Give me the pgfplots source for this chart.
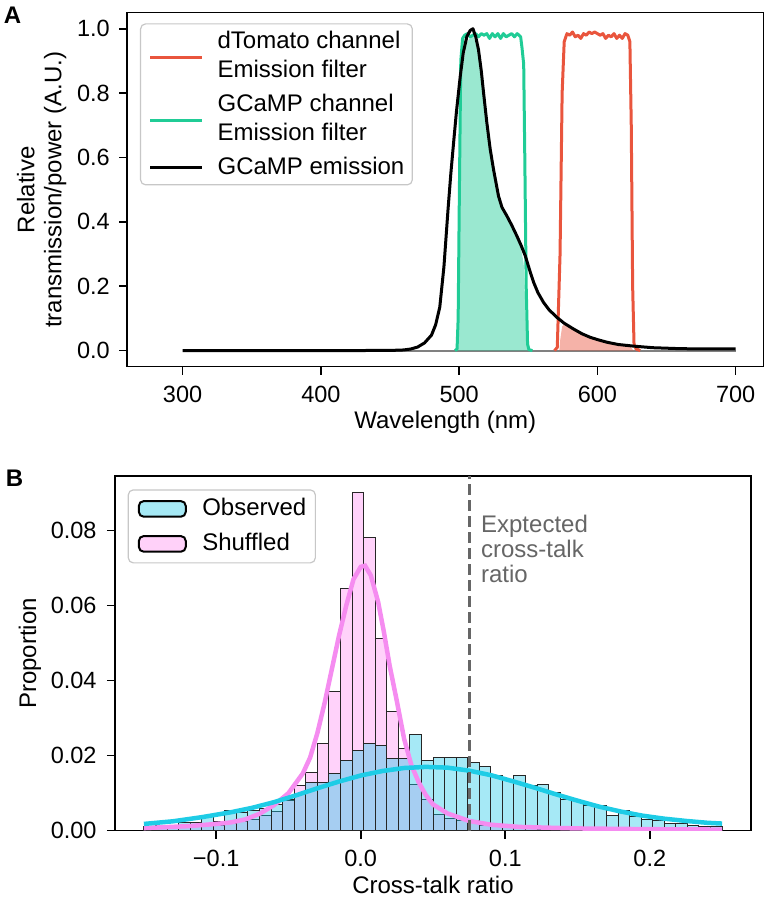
\documentclass[border=0pt]{standalone}
\usepackage{fontspec}
\setmainfont{Liberation Sans}
\usepackage{pgfplots}
\usepackage{pgfplotstable}
\pgfplotsset{compat=1.18}

\definecolor{tomline}{HTML}{E9553D}
\definecolor{gcline}{HTML}{20CC96}
\definecolor{obscol}{RGB}{32,200,232}
\definecolor{shufcol}{RGB}{255,142,242}
\definecolor{obskde}{RGB}{30,204,230}
\definecolor{shufkde}{RGB}{245,140,240}
\definecolor{annot}{HTML}{666666}

% GCaMP emission spectrum
\pgfplotstableread{
wl em
300 0.0
400 0.0
450 0.0005
460 0.002
465 0.005
470 0.011
475 0.024
480 0.048
483 0.08
486 0.135
489 0.26
492 0.44
494 0.55
496 0.646
498 0.74
500.8 0.852
503 0.925
505.6 0.976
508 0.995
510 1.0
512 0.975
514 0.935
516 0.87
517.7 0.80
520 0.71
522.5 0.625
525 0.56
528.5 0.48
531 0.445
534.6 0.418
538 0.39
541.8 0.356
545 0.325
547.9 0.294
551 0.25
553.9 0.212
557 0.18
561 0.15
565 0.127
570.8 0.103
576 0.085
582.8 0.067
589 0.052
595 0.041
601 0.033
607 0.026
615 0.019
626 0.014
640 0.009
660 0.006
680 0.005
700 0.005
}\emission

% dTomato channel emission filter
\pgfplotstableread{
wl tr
569 0.0
571 0.01
573 0.3
574.5 0.8
576 0.96
578 0.985
580 0.98
582 0.99
584 0.975
586 0.98
588 0.97
590 0.985
592 0.98
594 0.99
596 0.985
598 0.99
600 0.985
602 0.98
604 0.985
606 0.97
608 0.98
610 0.975
612 0.985
614 0.97
616 0.98
618 0.97
620 0.985
622 0.98
623.5 0.96
624.5 0.7
625.5 0.2
626.5 0.02
628 0.005
631 0.0
}\tomfilter

% GCaMP channel emission filter
\pgfplotstableread{
wl tr
497 0.0
498.5 0.005
499.3 0.1
500.2 0.5
501.2 0.9
502.5 0.97
504 0.98
506 0.985
508 0.975
510 0.98
512 0.985
514 0.975
516 0.985
518 0.98
520 0.985
522 0.97
524 0.985
526 0.975
528 0.985
530 0.97
532 0.985
534 0.975
536 0.98
538 0.985
540 0.975
542 0.985
544.5 0.975
545.5 0.94
546.7 0.89
547.5 0.6
548.5 0.2
549.5 0.02
550.5 0.003
553 0.0
}\gcfilter

% emission passed by each filter
\pgfplotstableread{
wl p
498.5 0.0
499.3 0.08
500.2 0.41
501.2 0.79
502.5 0.88
505.6 0.956
508 0.975
510 0.98
512 0.955
514 0.916
516 0.853
517.7 0.784
520 0.696
522.5 0.613
525 0.549
528.5 0.470
531 0.436
534.6 0.410
538 0.382
541.8 0.349
544.5 0.32
545.5 0.30
546.7 0.27
547.5 0.18
548.5 0.057
549.5 0.005
550.5 0.0
}\gcpass

\pgfplotstableread{
wl p
572.5 0.0
573 0.03
574.5 0.075
576 0.082
582.8 0.066
589 0.051
595 0.040
601 0.032
607 0.025
615 0.019
623.5 0.0145
624.5 0.01
625.5 0.003
626.5 0.0
}\tompass

% cross-talk ratio histograms, bin left edges (width 0.008)
\pgfplotstableread{
x obs shuf
-0.150 0.0012 0.0008
-0.142 0.0013 0.0008
-0.134 0.0015 0.0010
-0.126 0.0021 0.0010
-0.118 0.0022 0.0012
-0.110 0.0037 0.0015
-0.102 0.0024 0.0015
-0.094 0.0053 0.0020
-0.086 0.0048 0.0025
-0.078 0.0053 0.0030
-0.070 0.0060 0.0040
-0.062 0.0071 0.0050
-0.054 0.0084 0.0080
-0.046 0.0098 0.0120
-0.038 0.0129 0.0156
-0.030 0.0129 0.0233
-0.022 0.0153 0.0371
-0.014 0.0187 0.0644
-0.006 0.0215 0.0900
0.002 0.0233 0.0780
0.010 0.0226 0.0511
0.018 0.0193 0.0317
0.026 0.0193 0.0220
0.034 0.0256 0.0122
0.042 0.0188 0.0082
0.050 0.0196 0.0044
0.058 0.0196 0.0033
0.066 0.0196 0.0028
0.074 0.0181 0.0026
0.082 0.0172 0.0015
0.090 0.0148 0.0010
0.098 0.0137 0.0008
0.106 0.0146 0.0006
0.114 0.0121 0.0005
0.122 0.0124 0.0004
0.130 0.0101 0.0003
0.138 0.0082 0.0003
0.146 0.0080 0.0003
0.154 0.0068 0.0002
0.162 0.0067 0.0002
0.170 0.0040 0.0002
0.178 0.0053 0.0002
0.186 0.0038 0.0002
0.194 0.0030 0.0001
0.202 0.0028 0.0001
0.210 0.0020 0.0001
0.218 0.0018 0.0001
0.226 0.0015 0.0001
0.234 0.0012 0.0001
0.242 0.0012 0.0001
0.250 0 0
}\histtab

\pgfplotstableread{
x d
-0.150 0.0018
-0.130 0.0025
-0.110 0.0036
-0.090 0.0049
-0.075 0.0061
-0.060 0.0076
-0.045 0.0094
-0.030 0.0113
-0.015 0.0131
0.000 0.0147
0.015 0.0159
0.030 0.0167
0.045 0.0170
0.060 0.0168
0.075 0.0160
0.090 0.0148
0.105 0.0132
0.120 0.0115
0.135 0.0097
0.150 0.0080
0.165 0.0064
0.180 0.0051
0.195 0.0040
0.210 0.0032
0.225 0.0026
0.240 0.0021
0.250 0.0019
}\obskde

\pgfplotstableread{
x d
-0.150 0.0007
-0.120 0.0012
-0.100 0.0018
-0.090 0.0022
-0.080 0.0030
-0.070 0.0045
-0.060 0.0068
-0.050 0.0100
-0.040 0.0153
-0.035 0.0195
-0.030 0.0260
-0.025 0.0340
-0.020 0.0430
-0.015 0.0520
-0.010 0.0600
-0.005 0.0670
0.000 0.0703
0.003 0.0706
0.007 0.0680
0.012 0.0610
0.016 0.0530
0.020 0.0440
0.025 0.0345
0.030 0.0245
0.035 0.0175
0.040 0.0130
0.045 0.0095
0.050 0.0070
0.060 0.0046
0.075 0.0026
0.090 0.0016
0.110 0.0010
0.150 0.0006
0.200 0.0004
0.250 0.0003
}\shufkde

\pgfplotsset{
  panel/.style={
    scale only axis, width=636pt,
    tick align=outside, major tick length=8pt,
    tick style={line width=1.6pt, black},
    axis line style={line width=1.6pt},
    xtick pos=bottom, ytick pos=left,
    scaled x ticks=false, scaled y ticks=false,
    xticklabel style={anchor=north, inner sep=0pt, font=\fontsize{23.5}{26}\selectfont},
    yticklabel style={anchor=east, inner sep=0pt, font=\fontsize{23.5}{26}\selectfont},
    xticklabel shift=11.3pt,
    legend cell align=left,
  },
}

\begin{document}
\fontsize{24}{27}\selectfont
\begin{tikzpicture}[x=1pt, y=1pt]
\useasboundingbox (0,0) rectangle (768,902);

\begin{axis}[panel,
  at={(127.3pt,535.3pt)}, anchor=south west, height=354pt,
  yticklabel shift=9.3pt,
  xmin=260, xmax=720, ymin=-0.05, ymax=1.05,
  xtick={300,400,500,600,700}, xticklabels={300,400,500,600,700},
  ytick={0,0.2,0.4,0.6,0.8,1.0}, yticklabels={0.0,0.2,0.4,0.6,0.8,1.0},
  xlabel={Wavelength (nm)},
  xlabel style={at={(axis description cs:0.5,-0.156)}, anchor=center},
  ylabel={\begin{tabular}{@{}c@{}}Relative\\transmission/power (A.U.)\end{tabular}},
  ylabel style={at={(axis description cs:-0.1333,0.5)}, anchor=center},
  legend style={at={(axis description cs:0,1)}, anchor=north west,
    xshift=12.7pt, yshift=-10.6pt, draw=black!22, line width=1.2pt,
    rounded corners=5pt, fill=white, inner xsep=8pt, inner ysep=7pt,
    row sep=8pt, nodes={inner sep=0pt}},
]
\addplot[forget plot, gray, line width=2pt] coordinates {(300,0) (700,0)};
\addplot[forget plot, draw=none, fill=gcline, fill opacity=0.45] table[x=wl,y=p] {\gcpass} \closedcycle;
\addplot[forget plot, draw=none, fill=tomline, fill opacity=0.45] table[x=wl,y=p] {\tompass} \closedcycle;
\addplot[tomline, line width=3pt, line join=round,
  legend image code/.code={\draw[tomline, line width=3pt, overlay] (0pt,-16pt) -- (52pt,-16pt); \path (0pt,0pt) (66pt,0pt);}]
  table[x=wl,y=tr] {\tomfilter};
\addlegendentry{dTomato channel}
\addlegendimage{empty legend}
\addlegendentry{\raisebox{5pt}{Emission filter}}
\addplot[gcline, line width=3pt, line join=round,
  legend image code/.code={\draw[gcline, line width=3pt, overlay] (0pt,-16pt) -- (52pt,-16pt); \path (0pt,0pt) (66pt,0pt);}]
  table[x=wl,y=tr] {\gcfilter};
\addlegendentry{GCaMP channel}
\addlegendimage{empty legend}
\addlegendentry{\raisebox{5pt}{Emission filter}}
\addplot[black, line width=3pt, line join=round,
  legend image code/.code={\draw[black, line width=3pt, overlay] (0pt,0pt) -- (52pt,0pt); \path (0pt,0pt) (66pt,0pt);}]
  table[x=wl,y=em] {\emission};
\addlegendentry{GCaMP emission\hspace{16pt}}
\end{axis}

\begin{axis}[panel,
  at={(115pt,71.3pt)}, anchor=south west, height=354.7pt,
  yticklabel shift=10.3pt,
  xmin=-0.17, xmax=0.27, ymin=0, ymax=0.0945,
  xtick={-0.1,0,0.1,0.2}, xticklabels={−0.1,0.0,0.1,0.2},
  ytick={0,0.02,0.04,0.06,0.08}, yticklabels={0.00,0.02,0.04,0.06,0.08},
  xlabel={Cross-talk ratio},
  xlabel style={at={(axis description cs:0.5,-0.153)}, anchor=center},
  ylabel={Proportion},
  ylabel style={at={(axis description cs:-0.1336,0.5)}, anchor=center},
  reverse legend,
  legend style={at={(axis description cs:0,1)}, anchor=north west,
    xshift=12.7pt, yshift=-13.3pt, draw=black!22, line width=1.2pt,
    rounded corners=5pt, fill=white, inner xsep=9pt, inner ysep=8.5pt,
    row sep=14pt, nodes={inner sep=0pt}},
]
\addplot[ybar interval, fill=shufcol, fill opacity=0.4, draw=black!85, line width=1pt,
  legend image code/.code={\draw[fill=shufcol, fill opacity=0.4, draw=black, line width=2pt] (1pt,-7.85pt) rectangle (48pt,7.85pt); \path (0pt,0pt) (64pt,0pt);}]
  table[x=x,y=shuf] {\histtab};
\addlegendentry{Shuffled}
\addplot[ybar interval, fill=obscol, fill opacity=0.4, draw=black!85, line width=1pt,
  legend image code/.code={\draw[fill=obscol, fill opacity=0.4, draw=black, line width=2pt] (1pt,-7.85pt) rectangle (48pt,7.85pt); \path (0pt,0pt) (64pt,0pt);}]
  table[x=x,y=obs] {\histtab};
\addlegendentry{Observed}
\addplot[forget plot, shufkde, line width=4.5pt] table[x=x,y=d] {\shufkde};
\addplot[forget plot, obskde, line width=4.5pt] table[x=x,y=d] {\obskde};
\addplot[forget plot, annot, line width=3pt, dash pattern=on 11pt off 5pt] coordinates {(0.075,0) (0.075,0.0945)};
\node[annot, anchor=north west, inner sep=0pt, align=left, font=\fontsize{24}{25}\selectfont]
  at (axis cs:0.075,0.0842) [xshift=11.8pt] {Exptected\\cross-talk\\ratio};
\end{axis}

\node[font=\bfseries, inner sep=0pt] at (12.5pt,887pt) {A};
\node[font=\bfseries, inner sep=0pt] at (14.5pt,423.3pt) {B};
\end{tikzpicture}
\end{document}
